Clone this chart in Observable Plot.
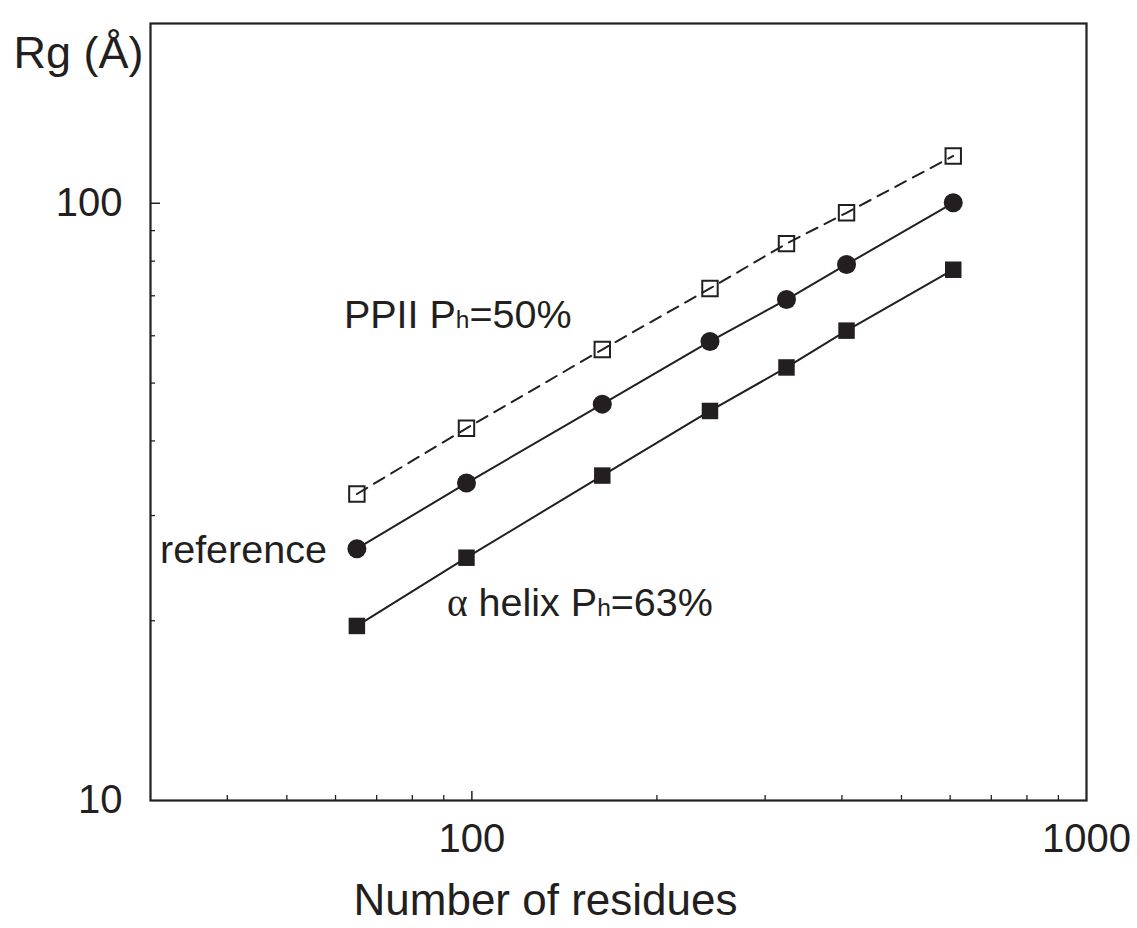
<!DOCTYPE html>
<html>
<head>
<meta charset="utf-8">
<script src="https://cdn.jsdelivr.net/npm/d3@7"></script>
<script src="https://cdn.jsdelivr.net/npm/@observablehq/plot@0.6"></script>
<style>
  body { margin: 0; background: #fff; }
</style>
</head>
<body>
<div id="chart"></div>
<script>
// Radius of gyration against chain length (log–log)
const residues    = [65, 98, 163, 244, 325, 407, 607];
const rgPPII      = [32.6, 42.0, 56.9, 72.0, 85.6, 96.4, 120.0];
const rgReference = [26.4, 34.0, 46.1, 58.7, 69.0, 79.0, 100.2];
const rgHelix     = [19.6, 25.5, 35.0, 44.9, 53.1, 61.2, 77.4];

const labelPPII      = "PPII Ph=50%";
const labelReference = "reference";
const labelHelix     = "α helix Ph=63%";

// Axis ticks
const xMinorTicks = [40, 50, 60, 70, 80, 90, 200, 300, 400, 500, 600, 700, 800, 900];
const xMajorTicks = [100];
const xTickLabels = [100, 1000];
const yMinorTicks = [20, 30, 40, 50, 60, 70, 80, 90];
const yMajorTicks = [100];
const yTickLabels = [10, 100];

const ink = "#231f20";

const toRows = (ys, label) => residues.map((n, i) => ({n, rg: ys[i], label}));
const ppii = toRows(rgPPII, labelPPII);
const reference = toRows(rgReference, labelReference);
const helix = toRows(rgHelix, labelHelix);

const plot = Plot.plot({
  width: 1137,
  height: 928,
  marginLeft: 150,
  marginRight: 51,
  marginTop: 23,
  marginBottom: 128,
  style: {fontFamily: "'Liberation Sans', Arial, sans-serif", background: "#fff", color: ink, overflow: "visible"},
  x: {type: "log", domain: [30, 1000], axis: null},
  y: {type: "log", domain: [10, 200], axis: null},
  marks: [
    Plot.frame({stroke: ink, strokeWidth: 2.2}),

    // inward tick marks
    Plot.axisX(xMinorTicks, {tickSize: -5, fill: "none", label: null, stroke: ink, strokeWidth: 1.3}),
    Plot.axisX(xMajorTicks, {tickSize: -9, fill: "none", label: null, stroke: ink, strokeWidth: 1.5}),
    Plot.axisY(yMinorTicks, {tickSize: -5, fill: "none", label: null, stroke: ink, strokeWidth: 1.3}),
    Plot.axisY(yMajorTicks, {tickSize: -10, fill: "none", label: null, stroke: ink, strokeWidth: 1.5}),

    // tick labels
    Plot.axisX(xTickLabels, {tickSize: 0, tickPadding: 23, tickFormat: d => String(d), fontSize: 40, label: null, fill: ink}),
    Plot.axisY(yTickLabels, {tickSize: 0, tickPadding: 28, tickFormat: d => String(d), fontSize: 40, label: null, fill: ink}),

    // axis titles
    Plot.text(["Number of residues"], {frameAnchor: "bottom", dx: -73, dy: 114, lineAnchor: "bottom", fontSize: 44, fill: ink}),
    Plot.text(["Rg (Å)"], {frameAnchor: "top-left", textAnchor: "start", lineAnchor: "bottom", dx: -137, dy: 44, fontSize: 45, fill: ink}),

    // series
    Plot.line(ppii, {x: "n", y: "rg", stroke: ink, strokeWidth: 2, strokeDasharray: "12,8"}),
    Plot.line(reference, {x: "n", y: "rg", stroke: ink, strokeWidth: 2}),
    Plot.line(helix, {x: "n", y: "rg", stroke: ink, strokeWidth: 2}),
    Plot.dot(ppii, {x: "n", y: "rg", symbol: "square", r: 8.7, fill: "none", stroke: ink, strokeWidth: 2}),
    Plot.dot(reference, {x: "n", y: "rg", symbol: "circle", r: 9.5, fill: ink, stroke: "none"}),
    Plot.dot(helix, {x: "n", y: "rg", symbol: "square", r: 9.3, fill: ink, stroke: "none"}),

    // series labels, placed relative to each series' first point
    Plot.text(ppii.slice(0, 1), {x: "n", y: "rg", text: "label", textAnchor: "start", lineAnchor: "bottom", dx: -13, dy: -166, fontSize: 39.5, fill: ink}),
    Plot.text(reference.slice(0, 1), {x: "n", y: "rg", text: "label", textAnchor: "end", lineAnchor: "bottom", dx: -30, dy: 14, fontSize: 39.5, fill: ink}),
    Plot.text(helix.slice(0, 1), {x: "n", y: "rg", text: "label", textAnchor: "start", lineAnchor: "bottom", dx: 90, dy: -10, fontSize: 39.5, fill: ink})
  ]
});

// Small "h" in Ph, serif alpha
d3.select(plot).selectAll("text").each(function () {
  const t = this.textContent;
  if (t !== labelPPII && t !== labelHelix) return;
  const el = d3.select(this);
  el.text(null);
  let rest = t;
  if (rest.startsWith("α")) {
    el.append("tspan").attr("font-family", "'Liberation Serif', 'DejaVu Serif', serif").text("α");
    rest = rest.slice(1);
  }
  const [before, after] = rest.split("Ph");
  el.append("tspan").text(before + "P");
  el.append("tspan").attr("font-size", "0.62em").text("h");
  el.append("tspan").text(after);
});

document.getElementById("chart").appendChild(plot);
</script>
</body>
</html>
